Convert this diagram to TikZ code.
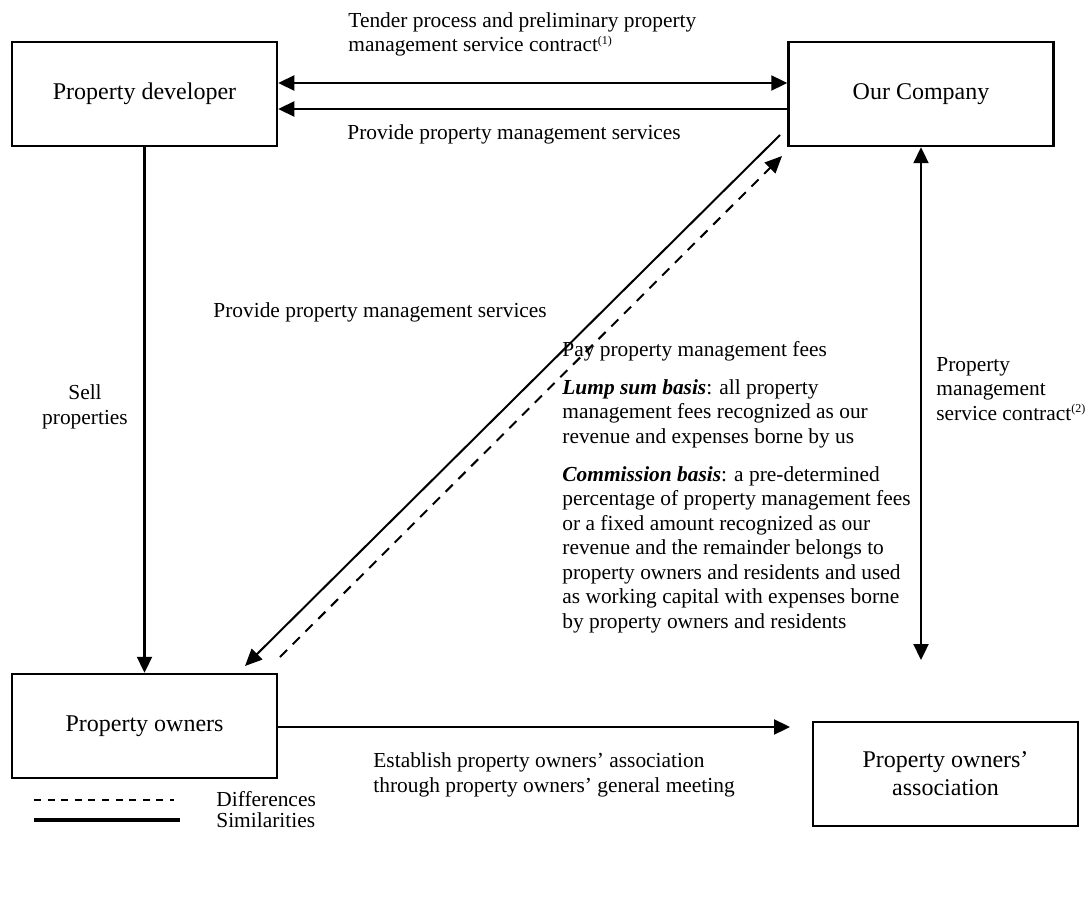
\documentclass[tikz,border=0pt]{standalone}
\usepackage{fontspec}
\setmainfont{Liberation Serif}
\usepackage{tikz}
\usetikzlibrary{arrows.meta, positioning, calc}

\newcommand{\fnref}[1]{\textsuperscript{\fontsize{6}{6}\selectfont(#1)}}

\begin{document}
\begin{tikzpicture}[
  x=0.5pt, y=-0.5pt,
  party/.style={draw, line width=1.25pt, minimum width=132.5pt,
    minimum height=52pt, font=\fontsize{12}{14}\selectfont,
    align=center, inner sep=0pt},
  note/.style={font=\fontsize{10.7}{12.25}\selectfont, align=left,
    anchor=base west, inner sep=0pt},
  flow/.style={line width=1.15pt, -{Triangle[length=8pt, width=7.5pt]}},
  both/.style={flow,
    {Triangle[length=8pt, width=7.5pt]}-{Triangle[length=8pt, width=7.5pt]}},
  diag/.style={line width=1pt, -{Triangle[length=8.5pt, width=7.5pt]}},
  diff/.style={diag, dash pattern=on 5pt off 4pt}
]
  \useasboundingbox (0,0) rectangle (1087,904);

  % Parties
  \node[party] (dev) at (144.5, 94) {Property developer};
  \node[party] (comp) at (921, 94) {Our Company};
  \node[party] (own) at (144.5, 726) {Property owners};
  \node[party] (assoc) at (945.5, 774) {Property owners'\\association};

  % Developer <-> Our Company
  % (multi-line notes sit on the baseline of their last line)
  \draw[both] ([yshift=5.5pt]dev.east) -- ([yshift=5.5pt]comp.west);
  \draw[flow] ([yshift=-7.5pt]comp.west) -- ([yshift=-7.5pt]dev.east);
  \node[note] (tender) at (348, 52)
    {Tender process and preliminary property\\management service contract\fnref{1}};
  \node[note] (svcdev) at (347, 140) {Provide property management services};

  % Developer -> owners
  \draw[flow] (dev.south) -- (own.north);
  \node[note, align=center, anchor=base] (sell) at (85, 424) {Sell\\properties};

  % Our Company <-> owners (services and fees)
  \coordinate (svctop) at (780, 135);
  \coordinate (svcend) at (245, 666);
  \coordinate (feestart) at (280, 657);
  \coordinate (feeend) at (782, 156);
  \draw[diag] (svctop) -- (svcend);
  \draw[diff] (feestart) -- (feeend);
  \node[note] (svcown) at (213, 317) {Provide property management services};
  \node[note] (pay) at (562, 356) {Pay property management fees};
  \node[note] (lump) at (562, 443)
    {\textbf{\textit{Lump sum basis}}: all property\\
     management fees recognized as our\\
     revenue and expenses borne by us};
  \node[note] (comm) at (562, 628)
    {\textbf{\textit{Commission basis}}: a pre-determined\\
     percentage of property management fees\\
     or a fixed amount recognized as our\\
     revenue and the remainder belongs to\\
     property owners and residents and used\\
     as working capital with expenses borne\\
     by property owners and residents};

  % Our Company <-> association
  \coordinate (pmcend) at (921, 660);
  \draw[both] (comp.south) -- (pmcend);
  \node[note] (pmc) at (936, 420)
    {Property\\management\\service contract\fnref{2}};

  % Owners -> association
  \coordinate (estend) at (790, 727);
  \draw[flow] (own.east |- estend) -- (estend);
  \node[note] (est) at (373, 792)
    {Establish property owners' association\\through property owners' general meeting};

  % Legend
  \draw[line width=0.9pt, dash pattern=on 3.5pt off 3.3pt] (34, 800) -- (174, 800);
  \draw[line width=1.6pt] (34, 820) -- (180, 820);
  \node[note] (diffkey) at (216, 806) {Differences};
  \node[note] (simkey) at (216, 827) {Similarities};
\end{tikzpicture}
\end{document}
